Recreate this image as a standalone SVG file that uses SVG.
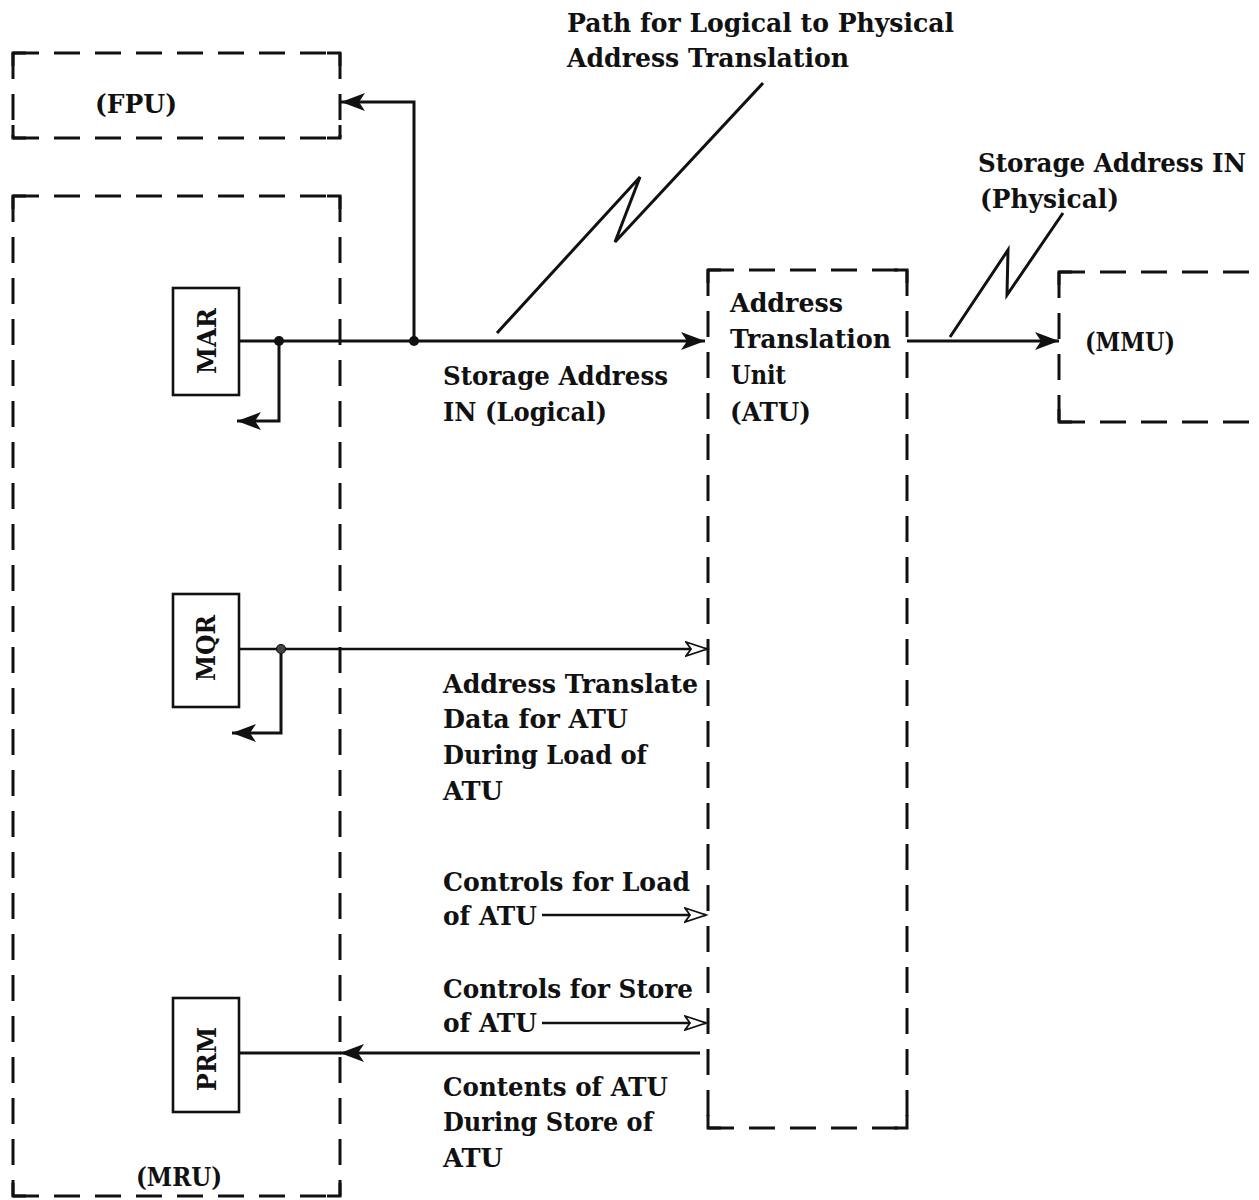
<svg xmlns="http://www.w3.org/2000/svg" width="1259" height="1200" viewBox="0 0 1259 1200">
<style>
  .t { font-family: "DejaVu Serif", "Liberation Serif", serif; font-weight: bold; font-size: 26px; fill: #111; }
  .dash { fill: none; stroke: #111; stroke-width: 3; stroke-dasharray: 26 15; }
  .corner { fill: none; stroke: #111; stroke-width: 3; }
  .box { fill: #fff; stroke: #111; stroke-width: 2.6; }
  .line { fill: none; stroke: #111; stroke-width: 3; }
  .thin { fill: none; stroke: #111; stroke-width: 2.4; }
</style>
<defs>
  <marker id="solid" markerUnits="userSpaceOnUse" markerWidth="28" markerHeight="20" refX="24" refY="9" orient="auto">
    <path d="M0,0 L24,9 L0,18 L6,9 Z" fill="#111"/>
  </marker>
  <marker id="open" markerUnits="userSpaceOnUse" markerWidth="26" markerHeight="18" refX="22" refY="8" orient="auto">
    <path d="M1,1 L22,8 L1,15 L6,8 Z" fill="#fff" stroke="#111" stroke-width="1.8"/>
  </marker>
</defs>
<rect width="1259" height="1200" fill="#fff"/>

<g id="fpu">
  <path class="dash" d="M13,53 H340"/>
  <path class="dash" d="M13,138 H340"/>
  <path class="dash" d="M13,53 V138"/>
  <path class="dash" d="M340,53 V138"/>
  <path class="corner" d="M13,66 V53 H26 M327,53 H340 V66 M13,125 V138 H26 M327,138 H340 V125"/>
  <text class="t" x="95" y="113" textLength="82" lengthAdjust="spacingAndGlyphs">(FPU)</text>
</g>

<g id="mru">
  <path class="dash" d="M13,196 H340"/>
  <path class="dash" d="M13,1196 H340"/>
  <path class="dash" d="M13,196 V1196"/>
  <path class="dash" d="M340,196 V1196"/>
  <path class="corner" d="M13,209 V196 H26 M327,196 H340 V209 M13,1183 V1196 H26 M327,1196 H340 V1183"/>
  <text class="t" x="136" y="1186" textLength="86" lengthAdjust="spacingAndGlyphs">(MRU)</text>
</g>

<g id="mar">
  <rect class="box" x="173" y="288" width="66" height="107"/>
  <text class="t" transform="translate(207,341) rotate(-90)" text-anchor="middle" dominant-baseline="central" textLength="66" lengthAdjust="spacingAndGlyphs">MAR</text>
</g>

<g id="mqr">
  <rect class="box" x="173" y="594" width="66" height="113"/>
  <text class="t" transform="translate(206,648) rotate(-90)" text-anchor="middle" dominant-baseline="central" textLength="66" lengthAdjust="spacingAndGlyphs">MQR</text>
</g>

<g id="prm">
  <rect class="box" x="173" y="998" width="66" height="114"/>
  <text class="t" transform="translate(207,1059) rotate(-90)" text-anchor="middle" dominant-baseline="central" textLength="64" lengthAdjust="spacingAndGlyphs">PRM</text>
</g>

<g id="atu">
  <path class="dash" d="M708,270 H907"/>
  <path class="dash" d="M708,1128 H907"/>
  <path class="dash" d="M708,270 V1128"/>
  <path class="dash" d="M907,270 V1128"/>
  <path class="corner" d="M708,283 V270 H721 M894,270 H907 V283 M708,1115 V1128 H721 M894,1128 H907 V1115"/>
  <text class="t" x="730" y="312" textLength="113" lengthAdjust="spacingAndGlyphs">Address</text>
  <text class="t" x="730" y="348" textLength="161" lengthAdjust="spacingAndGlyphs">Translation</text>
  <text class="t" x="731" y="384" textLength="55" lengthAdjust="spacingAndGlyphs">Unit</text>
  <text class="t" x="730" y="421" textLength="81" lengthAdjust="spacingAndGlyphs">(ATU)</text>
</g>

<g id="mmu">
  <path class="dash" d="M1059,272 H1259"/>
  <path class="dash" d="M1059,422 H1259"/>
  <path class="dash" d="M1059,272 V422"/>
  <path class="corner" d="M1059,285 V272 H1072 M1059,409 V422 H1072"/>
  <text class="t" x="1085" y="351" textLength="90" lengthAdjust="spacingAndGlyphs">(MMU)</text>
</g>

<g id="connectors">
  <path class="line" d="M239,341 H705" marker-end="url(#solid)"/>
  <path class="line" d="M414,341 V102 H341" marker-end="url(#solid)"/>
  <path class="line" d="M279,341 V421 H237" marker-end="url(#solid)"/>
  <circle cx="279" cy="341" r="5" fill="#111"/>
  <circle cx="414" cy="341" r="5" fill="#111"/>
  <path class="line" d="M907,341 H1059" marker-end="url(#solid)"/>
  <path class="thin" d="M239,649 H707" marker-end="url(#open)"/>
  <path class="line" d="M281,649 V733 H232" marker-end="url(#solid)"/>
  <circle cx="281" cy="649" r="4.5" fill="#444" stroke="#111" stroke-width="1.2"/>
  <path class="thin" d="M542,915 H706" marker-end="url(#open)"/>
  <path class="thin" d="M542,1023 H706" marker-end="url(#open)"/>
  <path class="line" d="M239,1053 H341"/>
  <path class="line" d="M700,1053 H340" marker-end="url(#solid)"/>
  <path class="line" d="M497,333 L640,177 L615,242 L763,83" stroke-linejoin="miter"/>
  <path class="line" d="M950,337 L1008,250 L1007,295 L1063,213" stroke-linejoin="miter"/>
</g>

<g id="labels">
  <text class="t" x="567" y="32" textLength="387" lengthAdjust="spacingAndGlyphs">Path for Logical to Physical</text>
  <text class="t" x="567" y="67" textLength="282" lengthAdjust="spacingAndGlyphs">Address Translation</text>
  <text class="t" x="978" y="172" font-size="24" textLength="268" lengthAdjust="spacingAndGlyphs">Storage Address IN</text>
  <text class="t" x="980" y="208" textLength="139" lengthAdjust="spacingAndGlyphs">(Physical)</text>
  <text class="t" x="443" y="385" textLength="225" lengthAdjust="spacingAndGlyphs">Storage Address</text>
  <text class="t" x="443" y="421" textLength="164" lengthAdjust="spacingAndGlyphs">IN (Logical)</text>
  <text class="t" x="443" y="693" textLength="255" lengthAdjust="spacingAndGlyphs">Address Translate</text>
  <text class="t" x="443" y="728" textLength="185" lengthAdjust="spacingAndGlyphs">Data for ATU</text>
  <text class="t" x="443" y="764" textLength="204" lengthAdjust="spacingAndGlyphs">During Load of</text>
  <text class="t" x="443" y="800" textLength="60" lengthAdjust="spacingAndGlyphs">ATU</text>
  <text class="t" x="443" y="891" textLength="247" lengthAdjust="spacingAndGlyphs">Controls for Load</text>
  <text class="t" x="443" y="925" textLength="94" lengthAdjust="spacingAndGlyphs">of ATU</text>
  <text class="t" x="443" y="998" textLength="250" lengthAdjust="spacingAndGlyphs">Controls for Store</text>
  <text class="t" x="443" y="1032" textLength="94" lengthAdjust="spacingAndGlyphs">of ATU</text>
  <text class="t" x="443" y="1096" textLength="225" lengthAdjust="spacingAndGlyphs">Contents of ATU</text>
  <text class="t" x="443" y="1131" textLength="210" lengthAdjust="spacingAndGlyphs">During Store of</text>
  <text class="t" x="443" y="1167" textLength="60" lengthAdjust="spacingAndGlyphs">ATU</text>
</g>
</svg>
